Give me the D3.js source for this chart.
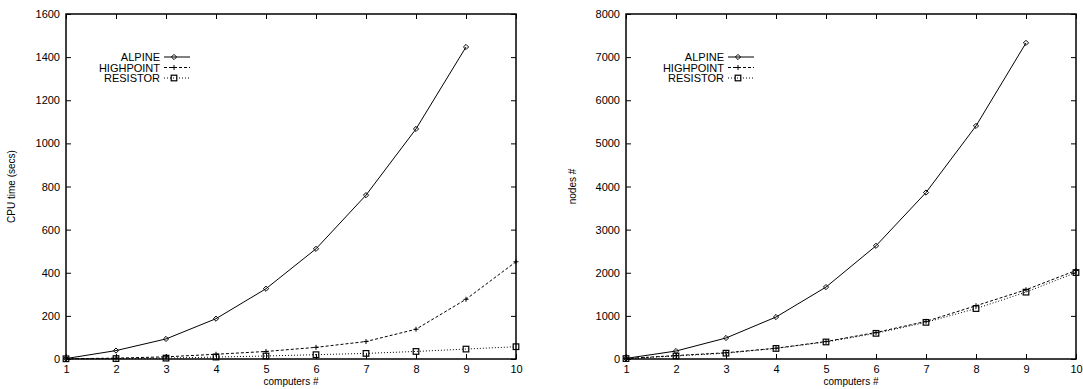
<!DOCTYPE html>
<html>
<head>
<meta charset="utf-8">
<script src="https://cdn.jsdelivr.net/npm/d3@7"></script>
<style>
  body { margin: 0; background: #fff; }
  text { font-family: "Liberation Sans", Arial, sans-serif; fill: #000; }
</style>
</head>
<body>
<script>
// ----------------------------------------
//  Data
// ----------------------------------------
var computers = [1, 2, 3, 4, 5, 6, 7, 8, 9, 10];
var seriesNames = ["ALPINE", "HIGHPOINT", "RESISTOR"];

// left panel: CPU time (secs)
var cpuAlpine    = [2, 39, 93, 187, 326, 511, 760, 1067, 1447];
var cpuHighpoint = [1, 4, 10, 22, 35, 54, 81, 138, 277, 451];
var cpuResistor  = [1, 2, 4, 9, 14, 20, 26, 35, 46, 57];

// right panel: nodes #
var nodesAlpine    = [14, 185, 487, 973, 1668, 2625, 3860, 5405, 7330];
var nodesHighpoint = [10, 80, 145, 250, 405, 615, 872, 1235, 1605, 2053];
var nodesResistor  = [10, 70, 135, 245, 395, 595, 850, 1170, 1550, 2005];

var cpuTicks = [0, 200, 400, 600, 800, 1000, 1200, 1400, 1600];
var nodeTicks = [0, 1000, 2000, 3000, 4000, 5000, 6000, 7000, 8000];

var W = 1083, H = 389;
var svg = d3.select("body").append("svg")
    .attr("width", W).attr("height", H);

var styles = [
  { dash: null, marker: "diamond" },
  { dash: "3,2", marker: "plus" },
  { dash: "1,2", marker: "square" }
];

function drawMarker(g, type, x, y) {
  if (type === "diamond") {
    g.append("path")
      .attr("d", "M" + x + "," + (y - 2.6) + "L" + (x + 2.6) + "," + y + "L" + x + "," + (y + 2.6) + "L" + (x - 2.6) + "," + y + "Z")
      .attr("fill", "none").attr("stroke", "#000").attr("stroke-width", 1);
  } else if (type === "plus") {
    g.append("path")
      .attr("d", "M" + (x - 2.5) + "," + y + "H" + (x + 2.5) + "M" + x + "," + (y - 2.5) + "V" + (y + 2.5))
      .attr("fill", "none").attr("stroke", "#000").attr("stroke-width", 1);
  } else {
    g.append("rect")
      .attr("x", x - 2.8).attr("y", y - 2.8).attr("width", 5.6).attr("height", 5.6)
      .attr("fill", "none").attr("stroke", "#000").attr("stroke-width", 1.2);
  }
}

function panel(left, yMax, yTicks, yLabel, seriesData, legendX, ylabelX) {
  var top = 14, bottom = 359, right = left + 450;
  var x = d3.scaleLinear().domain([1, 10]).range([left, right]);
  var y = d3.scaleLinear().domain([0, yMax]).range([bottom, top]);

  var g = svg.append("g");

  // axes, gnuplot style: ticks inward and mirrored
  g.append("g").attr("transform", "translate(0," + bottom + ")")
    .call(d3.axisBottom(x).tickValues(computers).tickFormat(d3.format("d")).tickSize(-5).tickPadding(6));
  g.append("g").attr("transform", "translate(0," + top + ")")
    .call(d3.axisTop(x).tickValues(computers).tickFormat("").tickSize(-5));
  g.append("g").attr("transform", "translate(" + left + ",0)")
    .call(d3.axisLeft(y).tickValues(yTicks).tickFormat(d3.format("d")).tickSize(-5).tickPadding(6));
  g.append("g").attr("transform", "translate(" + right + ",0)")
    .call(d3.axisRight(y).tickValues(yTicks).tickFormat("").tickSize(-5));

  g.selectAll(".domain").remove();
  g.selectAll(".tick line").attr("stroke", "#000");
  g.selectAll(".tick text").attr("font-size", 11).attr("font-family", "Liberation Sans, Arial, sans-serif");

  g.append("rect")
    .attr("x", left).attr("y", top).attr("width", right - left).attr("height", bottom - top)
    .attr("fill", "none").attr("stroke", "#000").attr("stroke-width", 1.5);

  // axis labels
  g.append("text")
    .attr("x", (left + right) / 2).attr("y", 385)
    .attr("text-anchor", "middle").attr("font-size", 10)
    .text("computers #");
  g.append("text")
    .attr("transform", "translate(" + ylabelX + "," + ((top + bottom) / 2) + ") rotate(-90)")
    .attr("text-anchor", "middle").attr("font-size", 10)
    .text(yLabel);

  // series
  var line = d3.line().x(function(d, i) { return x(computers[i]); }).y(function(d) { return y(d); });
  seriesData.forEach(function(vals, s) {
    g.append("path")
      .attr("d", line(vals))
      .attr("fill", "none").attr("stroke", "#000").attr("stroke-width", 1)
      .attr("stroke-dasharray", styles[s].dash);
    vals.forEach(function(v, i) { drawMarker(g, styles[s].marker, x(computers[i]), y(v)); });
  });

  // legend
  seriesNames.forEach(function(name, s) {
    var ly = 57 + s * 10.5;
    g.append("text")
      .attr("x", legendX).attr("y", ly + 4)
      .attr("text-anchor", "end").attr("font-size", 11)
      .text(name);
    g.append("path")
      .attr("d", "M" + (legendX + 4) + "," + ly + "H" + (legendX + 30))
      .attr("fill", "none").attr("stroke", "#000").attr("stroke-width", 1)
      .attr("stroke-dasharray", styles[s].dash);
    drawMarker(g, styles[s].marker, legendX + 14, ly);
  });
}

panel(66, 1600, cpuTicks, "CPU time (secs)", [cpuAlpine, cpuHighpoint, cpuResistor], 160, 15);
panel(626, 8000, nodeTicks, "nodes #", [nodesAlpine, nodesHighpoint, nodesResistor], 724, 576);
</script>
</body>
</html>
